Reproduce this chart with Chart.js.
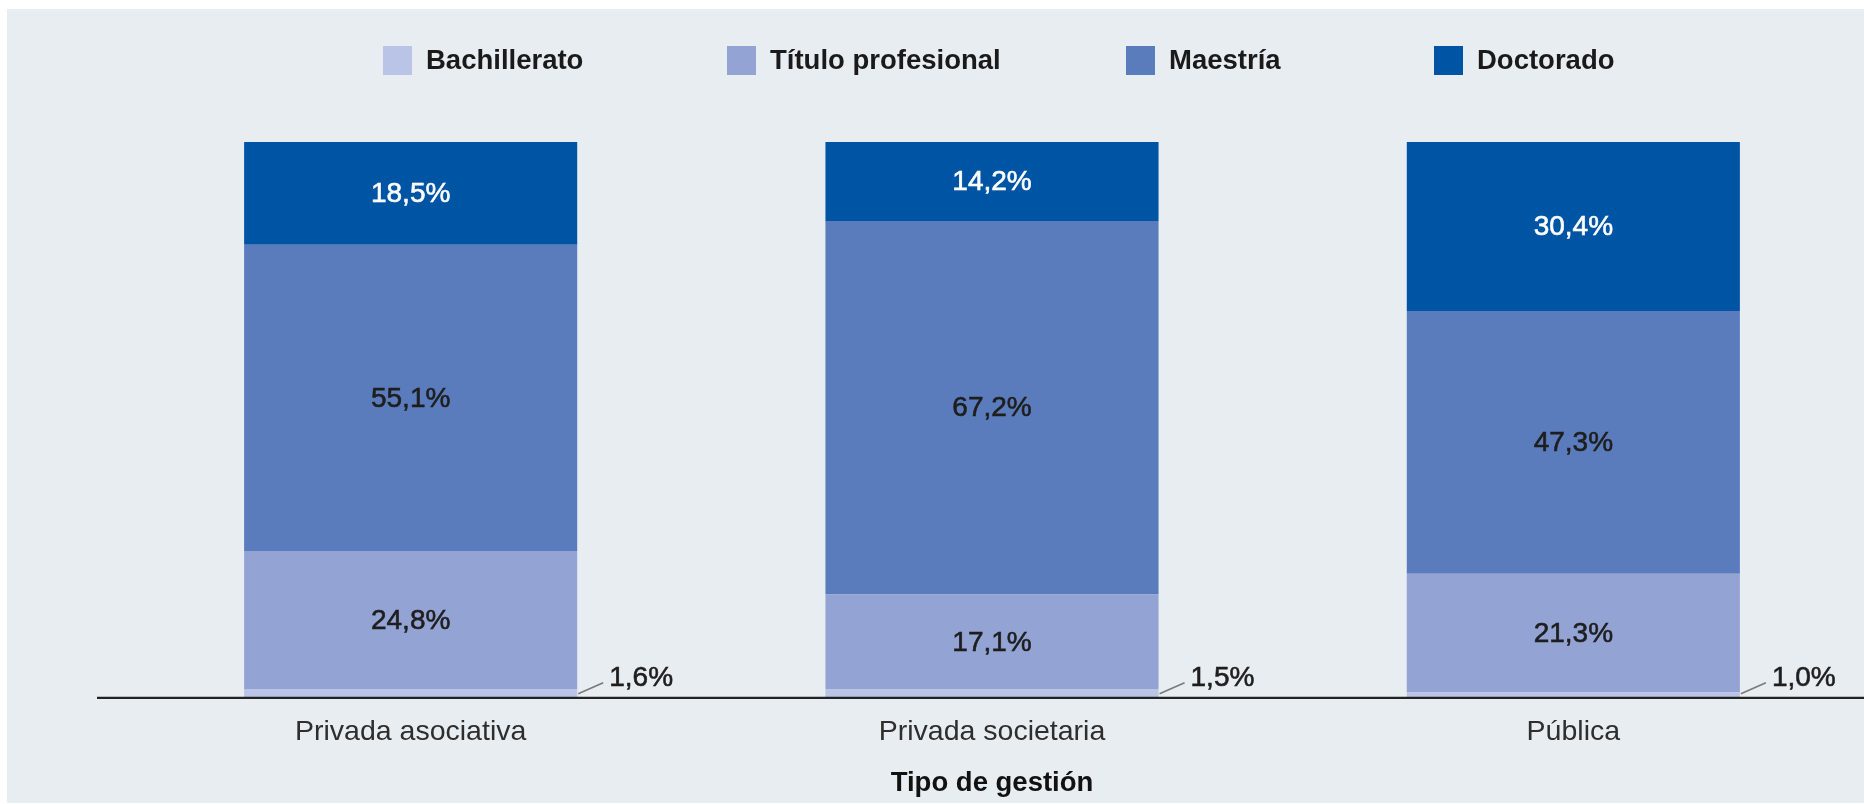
<!DOCTYPE html>
<html><head><meta charset="utf-8">
<script src="https://cdn.jsdelivr.net/npm/chart.js@4.4.1/dist/chart.umd.min.js"></script>
<style>html,body{margin:0;padding:0;background:#fff;}#wrap{width:1864px;height:804px;}</style>
</head><body><div id="wrap"><canvas id="c" width="1864" height="804"></canvas></div>
<script>
const categories = ['Privada asociativa', 'Privada societaria', 'Pública'];
const seriesNames = ['Bachillerato', 'Título profesional', 'Maestría', 'Doctorado'];
const bachillerato = [1.6, 1.5, 1.0];
const tituloProfesional = [24.8, 17.1, 21.3];
const maestria = [55.1, 67.2, 47.3];
const doctorado = [18.5, 14.2, 30.4];
const axisTitle = 'Tipo de gestión';

const seriesColors = ['#BAC4E6', '#93A3D4', '#5B7CBC', '#0054A4'];
const labelColors = ['#1e1e1e', '#1e1e1e', '#1e1e1e', '#ffffff'];
const legendX = [383, 727, 1126, 1434];

const fmt = v => v.toFixed(1).replace('.', ',') + '%';

const decor = {
  id: 'decor',
  beforeDraw(chart) {
    const ctx = chart.ctx;
    ctx.save();
    ctx.fillStyle = '#ffffff';
    ctx.fillRect(0, 0, chart.width, chart.height);
    ctx.fillStyle = '#E8EDF2';
    ctx.fillRect(7, 9, chart.width - 7, chart.height - 10);
    ctx.restore();
  },
  afterDatasetsDraw(chart) {
    const ctx = chart.ctx;
    const area = chart.chartArea;
    ctx.save();
    // axis line
    ctx.strokeStyle = '#222222';
    ctx.lineWidth = 2.2;
    ctx.beginPath();
    ctx.moveTo(97, area.bottom);
    ctx.lineTo(chart.width, area.bottom);
    ctx.stroke();

    // data labels
    chart.data.datasets.forEach((ds, di) => {
      const meta = chart.getDatasetMeta(di);
      meta.data.forEach((el, i) => {
        const v = ds.data[i];
        const txt = fmt(v);
        ctx.font = '28px "Liberation Sans", Arial, sans-serif';
        ctx.fillStyle = labelColors[di];
        ctx.strokeStyle = labelColors[di];
        ctx.lineWidth = 0.6;
        if (di === 0) {
          const right = el.x + el.width / 2;
          const base = el.base;
          ctx.save();
          ctx.strokeStyle = '#7a7a7a';
          ctx.lineWidth = 1.6;
          ctx.beginPath();
          ctx.moveTo(right + 1, base - 4);
          ctx.lineTo(right + 26, base - 15);
          ctx.stroke();
          ctx.restore();
          ctx.textAlign = 'left';
          ctx.textBaseline = 'middle';
          ctx.fillText(txt, right + 32, base - 20);
          ctx.strokeText(txt, right + 32, base - 20);
        } else {
          ctx.textAlign = 'center';
          ctx.textBaseline = 'middle';
          const cy = (el.y + el.base) / 2 + 1;
          ctx.fillText(txt, el.x, cy);
          ctx.strokeText(txt, el.x, cy);
        }
      });
    });

    // legend
    ctx.font = 'bold 27.5px "Liberation Sans", Arial, sans-serif';
    ctx.textAlign = 'left';
    ctx.textBaseline = 'middle';
    chart.data.datasets.forEach((ds, di) => {
      const x = legendX[di];
      ctx.fillStyle = ds.backgroundColor;
      ctx.fillRect(x, 46, 29, 29);
      ctx.fillStyle = '#1a1a1a';
      ctx.fillText(ds.label, x + 43, 61);
    });
    ctx.restore();
  }
};

const seriesValues = [bachillerato, tituloProfesional, maestria, doctorado];

new Chart(document.getElementById('c'), {
  type: 'bar',
  data: {
    labels: categories,
    datasets: seriesNames.map((name, k) => ({
      label: name,
      data: seriesValues[k],
      backgroundColor: seriesColors[k],
      borderWidth: 0,
      barPercentage: 0.573,
      categoryPercentage: 1.0
    }))
  },
  options: {
    responsive: false,
    animation: false,
    devicePixelRatio: 1,
    layout: { padding: { top: 142, left: 120, right: 0, bottom: 0 } },
    plugins: { legend: { display: false }, tooltip: { enabled: false } },
    scales: {
      x: {
        stacked: true,
        grid: { display: false, drawTicks: false },
        border: { display: false },
        ticks: {
          color: '#2e2e2e',
          padding: 17,
          font: { family: '"Liberation Sans", Arial, sans-serif', size: 28.5 }
        },
        title: {
          display: true,
          text: axisTitle,
          color: '#111111',
          font: { family: '"Liberation Sans", Arial, sans-serif', size: 27.5, weight: 'bold' },
          padding: { top: 1, bottom: 4 }
        }
      },
      y: {
        stacked: true,
        min: 0,
        max: 100,
        display: false
      }
    }
  },
  plugins: [decor]
});
</script>
</body></html>
